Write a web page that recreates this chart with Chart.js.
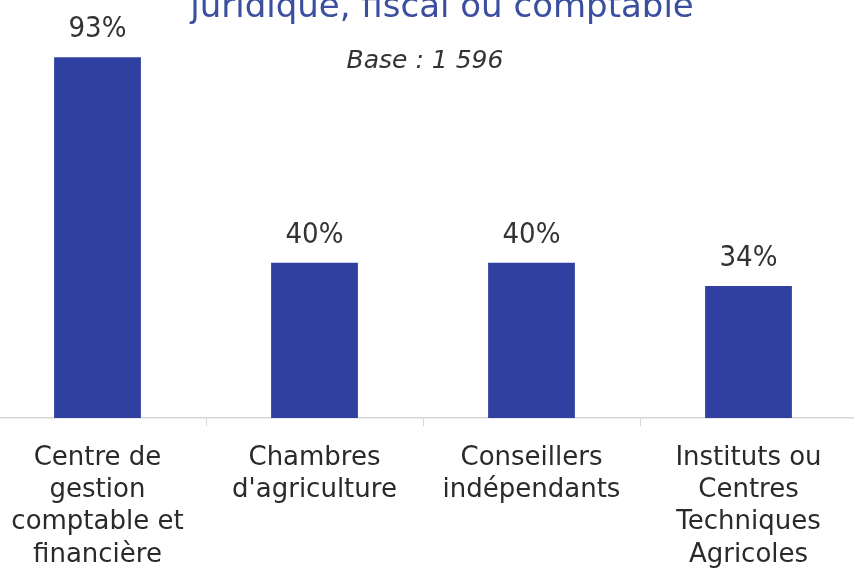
<!DOCTYPE html>
<html lang="fr">
<head>
<meta charset="utf-8">
<script src="https://cdn.jsdelivr.net/npm/chart.js@4.4.1/dist/chart.umd.min.js"></script>
<style>
  html, body { margin: 0; padding: 0; background: #fff; overflow: hidden; }
  #wrap { position: relative; width: 854px; height: 569px; }
  /* canvas is a bit wider and shifted left so the first bar sits where it does in the scan */
  #chart { position: absolute; left: -11px; top: 0; }
</style>
</head>
<body>
<div id="wrap">
  <canvas id="chart" width="868" height="569"></canvas>
</div>
<script>
// Data
const categories = [
  ['Centre de', 'gestion', 'comptable et', 'financière'],
  ['Chambres', "d'agriculture"],
  ['Conseillers', 'indépendants'],
  ['Instituts ou', 'Centres', 'Techniques', 'Agricoles'],
];
const shares = [93, 40, 40, 34];
const titleText = 'juridique, fiscal ou comptable';
const subtitleText = 'Base : 1 596';

const SHIFT = 11; // canvas offset to the left, px
const BAR_COLOR = '#3040a0';

// Value labels above bars + the (cropped) title and base line
const labelsPlugin = {
  id: 'labels',
  afterDatasetsDraw(chart) {
    const ctx = chart.ctx;
    ctx.save();
    ctx.fillStyle = '#333333';
    ctx.font = '29px "Liberation Sans Narrow", "DejaVu Sans Condensed", "Liberation Sans", sans-serif';
    ctx.textAlign = 'center';
    ctx.textBaseline = 'alphabetic';
    chart.getDatasetMeta(0).data.forEach((bar, i) => {
      ctx.fillText(shares[i] + '%', bar.x, bar.y - 20);
    });

    ctx.fillStyle = '#3b4fa0';
    ctx.font = '34px "DejaVu Sans", sans-serif';
    ctx.fillText(titleText, 442 + SHIFT, 17);

    ctx.fillStyle = '#333333';
    ctx.font = 'italic 25px "DejaVu Sans", sans-serif';
    ctx.fillText(subtitleText, 425 + SHIFT, 68);
    ctx.restore();
  },
};

new Chart(document.getElementById('chart'), {
  type: 'bar',
  data: {
    labels: categories,
    datasets: [{
      data: shares,
      backgroundColor: BAR_COLOR,
      barPercentage: 0.4,
      categoryPercentage: 1.0,
    }],
  },
  options: {
    responsive: false,
    animation: false,
    layout: { padding: { top: 30, left: 0, right: 0, bottom: 0 } },
    plugins: {
      legend: { display: false },
      tooltip: { enabled: false },
    },
    scales: {
      x: {
        afterFit(scale) { scale.height = 151; },
        grid: {
          drawOnChartArea: false,
          drawTicks: true,
          tickLength: 8,
          color: '#d8d8d8',
        },
        border: { color: '#d6d6d6', width: 1.5 },
        ticks: {
          padding: 16,
          color: '#2a2a2a',
          font: { family: '"DejaVu Sans", sans-serif', size: 26, lineHeight: 1.24 },
          maxRotation: 0,
          autoSkip: false,
        },
      },
      y: {
        display: false,
        min: 0,
        max: 100,
      },
    },
  },
  plugins: [labelsPlugin],
});
</script>
</body>
</html>
